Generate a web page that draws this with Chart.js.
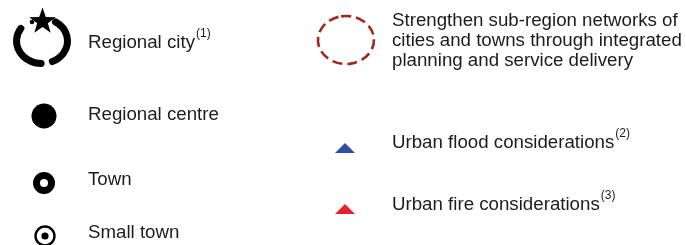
<!DOCTYPE html>
<html>
<head>
<meta charset="utf-8">
<script src="https://cdn.jsdelivr.net/npm/chart.js@4.4.1/dist/chart.umd.min.js"></script>
<style>
  html, body { margin: 0; padding: 0; background: #fff; }
  #wrap { width: 686px; height: 245px; }
</style>
</head>
<body>
<div id="wrap"><canvas id="legendChart" width="686" height="245"></canvas></div>
<script>
// ===== DATA (legend entries) =====
const entryLabels = [
    ['Regional city'],
    ['Regional centre'],
    ['Town'],
    ['Small town'],
    ['Strengthen sub-region networks of', 'cities and towns through integrated', 'planning and service delivery'],
    ['Urban flood considerations'],
    ['Urban fire considerations']
];
const entryNotes = ['(1)', '', '', '', '', '(2)', '(3)'];
const entryKinds = ['regionalCity', 'regionalCentre', 'town', 'smallTown', 'subRegion', 'flood', 'fire'];
// where each entry sits on the (hidden) axes
const entryCol = [42, 44, 44, 45, 346, 345, 345];
const entryRow = [41, 116, 183, 236, 40, 148, 209];
const textCol = [88, 88, 88, 88, 392, 392, 392];
const textRow = [43, 115, 180, 233, 41, 143, 205];

// ===== SYMBOLS =====
function makeCanvas(w, h, draw) {
    const c = document.createElement('canvas');
    c.width = w; c.height = h;
    draw(c.getContext('2d'), w, h);
    return c;
}
const rad = d => d * Math.PI / 180;

function star(ctx, cx, cy, ro, ri) {
    ctx.beginPath();
    for (let i = 0; i < 10; i++) {
        const r = i % 2 ? ri : ro;
        const a = rad(-90 + i * 36);
        const px = cx + r * Math.cos(a), py = cy + r * Math.sin(a);
        if (i === 0) ctx.moveTo(px, py); else ctx.lineTo(px, py);
    }
    ctx.closePath();
    ctx.fill();
}

const symbols = {
    regionalCity: makeCanvas(72, 72, (ctx) => {
        const cx = 36, cy = 36;
        ctx.strokeStyle = '#000';
        ctx.fillStyle = '#000';
        ctx.lineWidth = 7;
        ctx.lineCap = 'round';
        ctx.beginPath();
        ctx.ellipse(cx, cy, 25.5, 22.5, 0, rad(92), rad(214));
        ctx.stroke();
        ctx.beginPath();
        ctx.ellipse(cx, cy, 25.5, 22.5, 0, rad(-58), rad(66));
        ctx.stroke();
        ctx.beginPath();
        ctx.arc(cx - 10, cy - 19, 2.3, 0, Math.PI * 2);
        ctx.fill();
        star(ctx, cx + 0.5, cy - 19.5, 14, 5.6);
    }),
    regionalCentre: makeCanvas(30, 30, (ctx) => {
        ctx.fillStyle = '#000';
        ctx.beginPath();
        ctx.arc(15, 15, 12.5, 0, Math.PI * 2);
        ctx.fill();
    }),
    town: makeCanvas(26, 26, (ctx) => {
        ctx.strokeStyle = '#000';
        ctx.lineWidth = 7;
        ctx.beginPath();
        ctx.arc(13, 13, 7.5, 0, Math.PI * 2);
        ctx.stroke();
    }),
    smallTown: makeCanvas(26, 26, (ctx) => {
        ctx.strokeStyle = '#000';
        ctx.fillStyle = '#000';
        ctx.lineWidth = 2.4;
        ctx.beginPath();
        ctx.arc(13, 13, 9.5, 0, Math.PI * 2);
        ctx.stroke();
        ctx.beginPath();
        ctx.arc(13, 13, 3.6, 0, Math.PI * 2);
        ctx.fill();
    }),
    subRegion: makeCanvas(66, 60, (ctx) => {
        ctx.strokeStyle = '#9c2a20';
        ctx.lineWidth = 2.6;
        ctx.setLineDash([10, 5]);
        ctx.beginPath();
        ctx.ellipse(33, 30, 28, 24, 0, rad(-100), rad(260));
        ctx.stroke();
    }),
    flood: makeCanvas(22, 12, (ctx) => {
        ctx.fillStyle = '#2f4ea6';
        ctx.beginPath();
        ctx.moveTo(11, 1); ctx.lineTo(21, 11); ctx.lineTo(1, 11);
        ctx.closePath();
        ctx.fill();
    }),
    fire: makeCanvas(22, 12, (ctx) => {
        ctx.fillStyle = '#e8222a';
        ctx.beginPath();
        ctx.moveTo(11, 1); ctx.lineTo(21, 11); ctx.lineTo(1, 11);
        ctx.closePath();
        ctx.fill();
    })
};

// ===== LABELS PLUGIN =====
const labelPlugin = {
    id: 'entryLabels',
    afterDatasetsDraw(chart) {
        const { ctx, scales: { x, y } } = chart;
        ctx.save();
        ctx.fillStyle = '#1c1c1c';
        ctx.textBaseline = 'middle';
        entryLabels.forEach((lines, i) => {
            const left = x.getPixelForValue(textCol[i]);
            const lineH = 20;
            const top = y.getPixelForValue(textRow[i]) - (lines.length - 1) * lineH / 2;
            ctx.font = '18.7px "Liberation Sans", Arial, sans-serif';
            lines.forEach((t, j) => ctx.fillText(t, left, top + j * lineH));
            if (entryNotes[i]) {
                const w = ctx.measureText(lines[lines.length - 1]).width;
                ctx.font = '12px "Liberation Sans", Arial, sans-serif';
                ctx.fillText(entryNotes[i], left + w + 1, top - 9);
            }
        });
        ctx.restore();
    }
};

// ===== CHART =====
const datasets = entryKinds.map((k, i) => ({
    label: entryLabels[i].join(' '),
    data: [{ x: entryCol[i], y: entryRow[i] }],
    pointStyle: symbols[k],
    pointRadius: 10,
    showLine: false
}));

new Chart(document.getElementById('legendChart'), {
    type: 'scatter',
    data: { datasets },
    options: {
        responsive: false,
        animation: false,
        layout: { padding: 0, autoPadding: false },
        clip: false,
        scales: {
            x: { type: 'linear', min: 0, max: 686, display: false },
            y: { type: 'linear', min: 0, max: 245, reverse: true, display: false }
        },
        plugins: { legend: { display: false }, tooltip: { enabled: false } }
    },
    plugins: [labelPlugin]
});
</script>
</body>
</html>
